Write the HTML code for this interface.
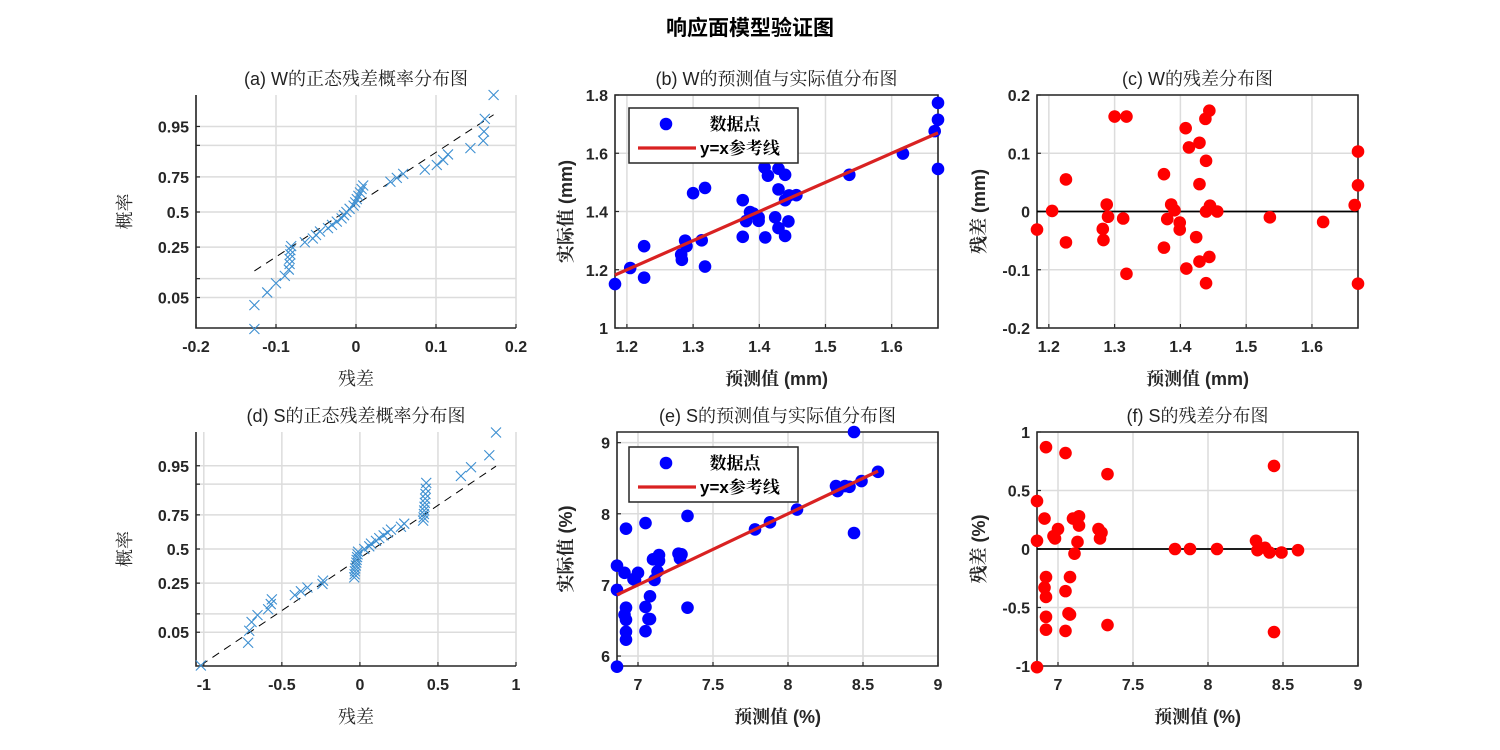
<!DOCTYPE html>
<html><head><meta charset="utf-8"><style>
body{margin:0;background:#fff;}
svg{display:block;font-family:"Liberation Sans","Noto Serif CJK SC",sans-serif;}
.tick{font-size:16px;font-weight:bold;fill:#262626;}
.ttl{font-size:18px;fill:#222;}
.lbl{font-size:18px;fill:#262626;}
</style></head><body>
<svg id="fig" width="1500" height="750" viewBox="0 0 1500 750">
<text x="750" y="35" text-anchor="middle" style="font-size:21px;font-weight:bold;font-family:'Liberation Sans','Noto Sans CJK SC',sans-serif">响应面模型验证图</text>
</svg>
<script>
// W data: predicted values and residuals (mm)
const predW = [1.182,1.205,1.226,1.226,1.282,1.283,1.288,1.290,1.300,1.313,1.318,1.318,1.375,1.380,1.386,1.391,1.399,1.399,1.375,1.408,1.413,1.409,1.424,1.429,1.429,1.429,1.438,1.444,1.439,1.439,1.445,1.444,1.439,1.456,1.536,1.617,1.665,1.670,1.670,1.670];
const residW = [-0.031,0.001,0.055,-0.053,-0.030,-0.049,0.012,-0.009,0.163,-0.012,0.163,-0.107,0.064,-0.013,0.012,0.002,-0.019,-0.031,-0.062,0.143,0.110,-0.098,-0.044,0.118,0.047,-0.086,0.159,0.173,0.087,0.000,0.010,-0.078,-0.123,0.000,-0.010,-0.018,0.011,0.103,0.045,-0.124];
// S data: predicted values and residuals (%)
const predS = [6.86,6.86,6.86,6.92,6.91,6.92,6.91,6.92,6.92,6.92,6.97,6.98,7.00,7.05,7.05,7.05,7.07,7.08,7.08,7.10,7.14,7.14,7.13,7.11,7.27,7.29,7.28,7.33,7.33,7.78,7.88,8.06,8.32,8.33,8.38,8.41,8.44,8.44,8.49,8.60];
const residS = [0.41,0.07,-1.01,0.87,0.26,-0.24,-0.33,-0.41,-0.58,-0.69,0.11,0.09,0.17,0.82,-0.36,-0.70,-0.55,-0.56,-0.24,0.26,0.28,0.20,0.06,-0.04,0.17,0.14,0.09,0.64,-0.65,0,0,0,0.07,-0.01,0.01,-0.03,0.71,-0.71,-0.03,-0.01];
// residuals shown in the normal probability plots
const normResidW = [-0.127,-0.127,-0.111,-0.100,-0.089,-0.084,-0.083,-0.083,-0.082,-0.082,-0.081,-0.064,-0.054,-0.050,-0.045,-0.035,-0.030,-0.024,-0.018,-0.015,-0.012,-0.008,-0.003,-0.001,0.001,0.003,0.005,0.007,0.009,0.043,0.051,0.059,0.086,0.101,0.109,0.115,0.143,0.159,0.160,0.161,0.172];
const normResidS = [-1.019,-0.716,-0.709,-0.694,-0.656,-0.588,-0.571,-0.564,-0.417,-0.378,-0.336,-0.240,-0.236,-0.036,-0.034,-0.032,-0.030,-0.026,-0.023,-0.021,-0.018,-0.015,-0.012,0.028,0.060,0.071,0.103,0.124,0.152,0.177,0.199,0.263,0.284,0.405,0.408,0.410,0.412,0.414,0.416,0.418,0.420,0.422,0.425,0.647,0.712,0.829,0.872];
// tick labels
const ticksProb = [0.05,0.1,0.25,0.5,0.75,0.9,0.95];
const ticksProbLabel = ['0.05','','0.25','0.5','0.75','','0.95'];
const ticksXa = [-0.2,-0.1,0,0.1,0.2];
const ticksXd = [-1,-0.5,0,0.5,1];
const ticksXW = [1.2,1.3,1.4,1.5,1.6];
const ticksYb = [1,1.2,1.4,1.6,1.8];
const ticksYc = [-0.2,-0.1,0,0.1,0.2];
const ticksXS = [7,7.5,8,8.5,9];
const ticksYe = [6,7,8,9];
const ticksYf = [-1,-0.5,0,0.5,1];

const NS='http://www.w3.org/2000/svg';
const fig=document.getElementById('fig');
function mk(tag,attrs,parent){const e=document.createElementNS(NS,tag);for(const k in attrs)e.setAttribute(k,attrs[k]);(parent||fig).appendChild(e);return e;}
function ninv(p){const a=[-39.6968302866538,220.946098424521,-275.928510446969,138.357751867269,-30.6647980661472,2.50662827745924],b=[-54.4760987982241,161.585836858041,-155.698979859887,66.8013118877197,-13.2806815528857],c=[-0.00778489400243029,-0.322396458041136,-2.40075827716184,-2.54973253934373,4.37466414146497,2.93816398269878],d=[0.00778469570904146,0.32246712907004,2.445134137143,3.75440866190742];const pl=0.02425;let q,r;if(p<pl){q=Math.sqrt(-2*Math.log(p));return(((((c[0]*q+c[1])*q+c[2])*q+c[3])*q+c[4])*q+c[5])/((((d[0]*q+d[1])*q+d[2])*q+d[3])*q+1);}if(p>1-pl){q=Math.sqrt(-2*Math.log(1-p));return-(((((c[0]*q+c[1])*q+c[2])*q+c[3])*q+c[4])*q+c[5])/((((d[0]*q+d[1])*q+d[2])*q+d[3])*q+1);}q=p-0.5;r=q*q;return(((((a[0]*r+a[1])*r+a[2])*r+a[3])*r+a[4])*r+a[5])*q/(((((b[0]*r+b[1])*r+b[2])*r+b[3])*r+b[4])*r+1);}

function axes(P){
  const g=mk('g',{});
  
  
  P.sx=v=>P.L+(v-P.x0)/(P.x1-P.x0)*(P.R-P.L);
  P.sy=v=>P.B-(v-P.y0)/(P.y1-P.y0)*(P.B-P.T);
  P.g=g;
  P.xt.forEach(t=>{const x=P.sx(t);
    const l=mk('line',{x1:x,x2:x,y1:P.T,y2:P.B,stroke:'#dcdcdc','stroke-width':1.5},g);
    
    mk('line',{x1:x,x2:x,y1:P.B,y2:P.B-4,stroke:'#262626','stroke-width':1.2},g);
    const tx=mk('text',{x:x,y:P.B+24,'text-anchor':'middle',class:'tick'},g);tx.textContent=String(t);
    });
  P.yt.forEach((t,i)=>{const y=P.syT?P.syT(t):P.sy(t);
    const l=mk('line',{x1:P.L,x2:P.R,y1:y,y2:y,stroke:'#dcdcdc','stroke-width':1.5},g);
    
    mk('line',{x1:P.L,x2:P.L+4,y1:y,y2:y,stroke:'#262626','stroke-width':1.2},g);
    const lab=P.ytl?P.ytl[i]:String(t);
    if(lab){const tx=mk('text',{x:P.L-7,y:y+6,'text-anchor':'end',class:'tick'},g);tx.textContent=lab;
    }});
  const ax=mk('path',{d:P.box?`M${P.L},${P.T}H${P.R}V${P.B}H${P.L}Z`:`M${P.L},${P.T}V${P.B}H${P.R}`,fill:'none',stroke:'#262626','stroke-width':1.6},g);
  
  const tt=mk('text',{x:(P.L+P.R)/2,y:P.T-10,'text-anchor':'middle',class:'ttl'},g);tt.textContent=P.title;
  
  const xl=mk('text',{x:(P.L+P.R)/2,y:P.B+57,'text-anchor':'middle',class:'lbl','font-weight':P.bold?'bold':'normal'},g);xl.textContent=P.xlabel;
  
  const yx=P.L-P.ylo,yy=(P.T+P.B)/2;
  const yl=mk('text',{x:yx,y:yy,'text-anchor':'middle',class:'lbl','font-weight':P.bold?'bold':'normal',transform:`rotate(-90 ${yx} ${yy})`},g);yl.textContent=P.ylabel;
  
  return P;
}

function normplot(P,resid){
  const n=resid.length;const s=resid.slice().sort((a,b)=>a-b);
  P.syT=p=>P.zc-ninv(p)*P.zs;
  axes(P);
  const q=f=>{const i=f*n-0.5;const lo=Math.floor(i);return s[lo]+(s[lo+1]-s[lo])*(i-lo);};
  const q1=q(0.25),q3=q(0.75),z1=ninv(0.25),z3=ninv(0.75);
  const zAt=x=>z1+(x-q1)*(z3-z1)/(q3-q1);
  const xa=s[0],xb=s[n-1];
  const ln=mk('line',{x1:P.sx(xa),y1:P.zc-zAt(xa)*P.zs,x2:P.sx(xb),y2:P.zc-zAt(xb)*P.zs,stroke:'#000','stroke-width':1,'stroke-dasharray':'8,6'},P.g);
  
  s.forEach((v,i)=>{const x=P.sx(v),y=P.zc-ninv((i+0.5)/n)*P.zs;
    const m=mk('path',{d:`M${x-5},${y-5}L${x+5},${y+5}M${x-5},${y+5}L${x+5},${y-5}`,stroke:'#3d8fd1','stroke-width':1.1},P.g);
    });
}

function scatter(P,pred,resid,isResid,legendTop){
  axes(P);
  const cl=mk('clipPath',{id:P.name+'-clip'},P.g);mk('rect',{x:P.L-8,y:P.T-8,width:P.R-P.L+16,height:P.B-P.T+16},cl);
  const gg=mk('g',{'clip-path':`url(#${P.name}-clip)`},P.g);
  const mn=Math.min(...pred),mx=Math.max(...pred);
  if(isResid){
    const z=mk('line',{x1:P.sx(mn),x2:P.sx(mx),y1:P.sy(0),y2:P.sy(0),stroke:'#000','stroke-width':1.8},gg);
    
  }
  pred.forEach((p,i)=>{const v=isResid?resid[i]:p+resid[i];
    const c=mk('circle',{cx:P.sx(p),cy:P.sy(v),r:6.3,fill:isResid?'#ff0000':'#0000ff'},gg);
    });
  if(!isResid){
    const rl=mk('line',{x1:P.sx(mn),y1:P.sy(mn),x2:P.sx(mx),y2:P.sy(mx),stroke:'#d92222','stroke-width':3.2},gg);
    
    const lg=mk('g',{},P.g);
    
    const T=legendTop;
    mk('rect',{x:629,y:T,width:169,height:55,fill:'#fff',stroke:'#262626','stroke-width':1.5},lg);
    mk('circle',{cx:666,cy:T+16,r:6.3,fill:'#0000ff'},lg);
    const t1=mk('text',{x:735,y:T+22,'text-anchor':'middle',style:'font-size:17px;font-weight:bold'},lg);t1.textContent='数据点';
    
    mk('line',{x1:638,x2:696,y1:T+40,y2:T+40,stroke:'#d92222','stroke-width':3.2},lg);
    const t2=mk('text',{x:700,y:T+46,style:'font-size:17px;font-weight:bold'},lg);t2.textContent='y=x参考线';
    
  }
}

normplot({name:'panel-a',L:196,R:516,T:95,B:328,x0:-0.2,x1:0.2,zc:212,zs:52,xt:ticksXa,yt:ticksProb,ytl:ticksProbLabel,box:false,title:'(a) W的正态残差概率分布图',xlabel:'残差',ylabel:'概率',ylo:65},normResidW);
scatter({name:'panel-b',L:615,R:938,T:95,B:328,x0:1.182,x1:1.67,y0:1,y1:1.8,xt:ticksXW,yt:ticksYb,box:true,bold:true,title:'(b) W的预测值与实际值分布图',xlabel:'预测值 (mm)',ylabel:'实际值 (mm)',ylo:43},predW,residW,false,108);
scatter({name:'panel-c',L:1037,R:1358,T:95,B:328,x0:1.182,x1:1.67,y0:-0.2,y1:0.2,xt:ticksXW,yt:ticksYc,box:true,bold:true,title:'(c) W的残差分布图',xlabel:'预测值 (mm)',ylabel:'残差 (mm)',ylo:52},predW,residW,true);
normplot({name:'panel-d',L:196,R:516,T:432,B:666,x0:-1.05,x1:1.0,zc:549,zs:50.6,xt:ticksXd,yt:ticksProb,ytl:ticksProbLabel,box:false,title:'(d) S的正态残差概率分布图',xlabel:'残差',ylabel:'概率',ylo:65},normResidS);
scatter({name:'panel-e',L:617,R:938,T:432,B:666,x0:6.86,x1:9,y0:5.86,y1:9.15,xt:ticksXS,yt:ticksYe,box:true,bold:true,title:'(e) S的预测值与实际值分布图',xlabel:'预测值 (%)',ylabel:'实际值 (%)',ylo:45},predS,residS,false,447);
scatter({name:'panel-f',L:1037,R:1358,T:432,B:666,x0:6.86,x1:9,y0:-1,y1:1,xt:ticksXS,yt:ticksYf,box:true,bold:true,title:'(f) S的残差分布图',xlabel:'预测值 (%)',ylabel:'残差 (%)',ylo:52},predS,residS,true);
</script>
</body></html>
